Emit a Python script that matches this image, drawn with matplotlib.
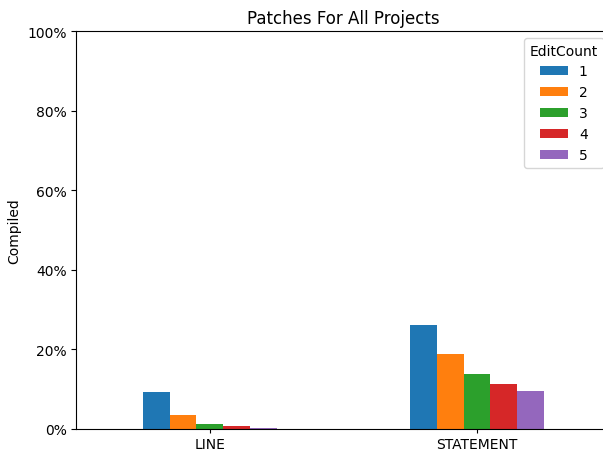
import numpy as np
import pandas as pd
import matplotlib
matplotlib.use("Agg")
import matplotlib.pyplot as plt
from matplotlib.ticker import PercentFormatter

# compiled rate per granularity, one series per edit count
categories = ["LINE", "STATEMENT"]
edit_counts = ["1", "2", "3", "4", "5"]
rate_1 = [0.092, 0.261]
rate_2 = [0.035, 0.188]
rate_3 = [0.013, 0.138]
rate_4 = [0.0075, 0.112]
rate_5 = [0.0025, 0.095]

df = pd.DataFrame(
    {"1": rate_1, "2": rate_2, "3": rate_3, "4": rate_4, "5": rate_5},
    index=categories,
)
df.columns.name = "EditCount"

fig = plt.figure(figsize=(6.03, 4.52), dpi=100)
# the right spine sits just past the picture edge, as in the reference crop
ax = fig.add_axes([0.1265, 0.0487, 0.886, 0.8805])
df.plot.bar(ax=ax, rot=0)

ax.set_ylim(0, 1)
ax.yaxis.set_major_formatter(PercentFormatter(1.0, decimals=0))
ax.tick_params(axis="x", length=3, pad=2.5)
ax.set_title("Patches For All Projects")
ax.set_ylabel("Compiled")
ax.set_xlabel("")
ax.legend(title="EditCount", loc="upper right")

fig.savefig("out.png", dpi=100)
